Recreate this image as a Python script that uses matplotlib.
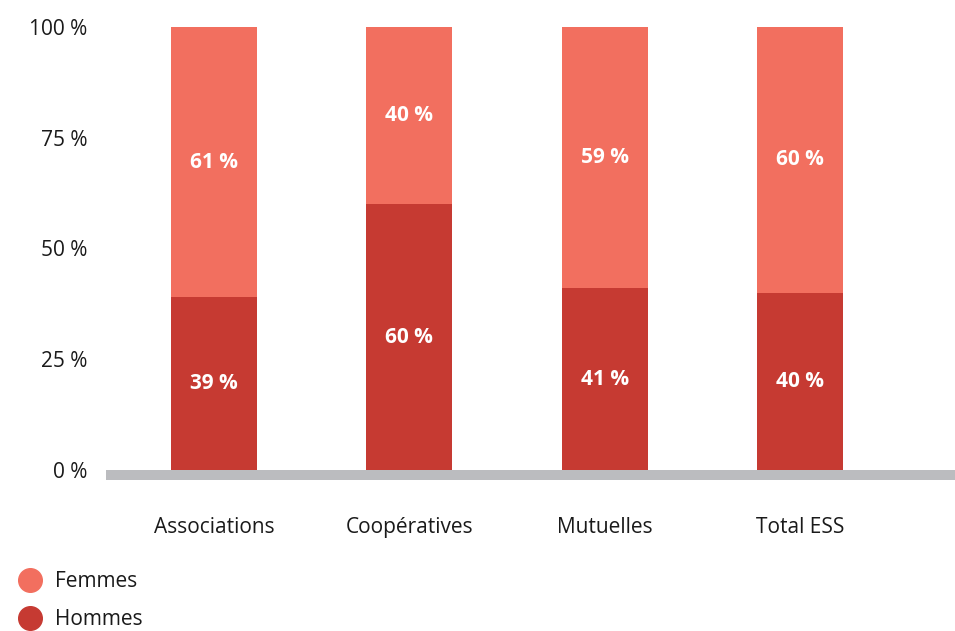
import matplotlib
matplotlib.use("Agg")
import matplotlib.pyplot as plt
from matplotlib.lines import Line2D

plt.rcParams['font.family'] = ['Open Sans', 'DejaVu Sans']

categories = ["Associations", "Coopératives", "Mutuelles", "Total ESS"]
hommes = [39, 60, 41, 40]
femmes = [61, 40, 59, 60]
yticks = [0, 25, 50, 75, 100]
ytick_labels = ["0 %", "25 %", "50 %", "75 %", "100 %"]

c_f = "#F26F5F"
c_h = "#C63A32"
c_gray = "#BBBCBF"
c_text = "#1A1A1A"

fig = plt.figure(figsize=(9.55, 6.31), dpi=100)
bottom_px, top_px = 480, 27
ax = fig.add_axes([106/955, (631-bottom_px)/631, (955-106)/955, (bottom_px-top_px)/631])

x = list(range(len(categories)))
w = 0.44
b1 = ax.bar(x, hommes, width=w, color=c_h, label="Hommes")
b2 = ax.bar(x, femmes, width=w, bottom=hommes, color=c_f, label="Femmes")
ax.bar_label(b1, labels=[f"{v} %" for v in hommes], label_type='center',
             color='white', fontsize=15, fontweight='bold')
ax.bar_label(b2, labels=[f"{v} %" for v in femmes], label_type='center',
             color='white', fontsize=15, fontweight='bold')

ylow = -10/4.43
ax.axhspan(ylow, 0, color=c_gray, lw=0)
ax.set_ylim(ylow, 100)
ax.set_xlim(-0.553, 3.794)

ax.set_yticks(yticks)
ax.set_yticklabels(ytick_labels, fontsize=15, color=c_text)
ax.tick_params(axis='y', length=0, pad=13.5)
ax.set_xticks(x)
ax.set_xticklabels(categories, fontsize=15, color=c_text)
ax.tick_params(axis='x', length=0, pad=26.5)
for s in ax.spines.values():
    s.set_visible(False)

handles = [Line2D([], [], marker='o', linestyle='none', markersize=17, color=c_f),
           Line2D([], [], marker='o', linestyle='none', markersize=17, color=c_h)]
leg = fig.legend(handles, ["Femmes", "Hommes"], loc='upper left',
                 bbox_to_anchor=(17.5/955, 1 - 571/631), frameon=False,
                 fontsize=15, labelspacing=0.82, handletextpad=0.6,
                 handlelength=1.2, borderaxespad=0, borderpad=0)
for t in leg.get_texts():
    t.set_color(c_text)

fig.savefig("out.png", dpi=100)
